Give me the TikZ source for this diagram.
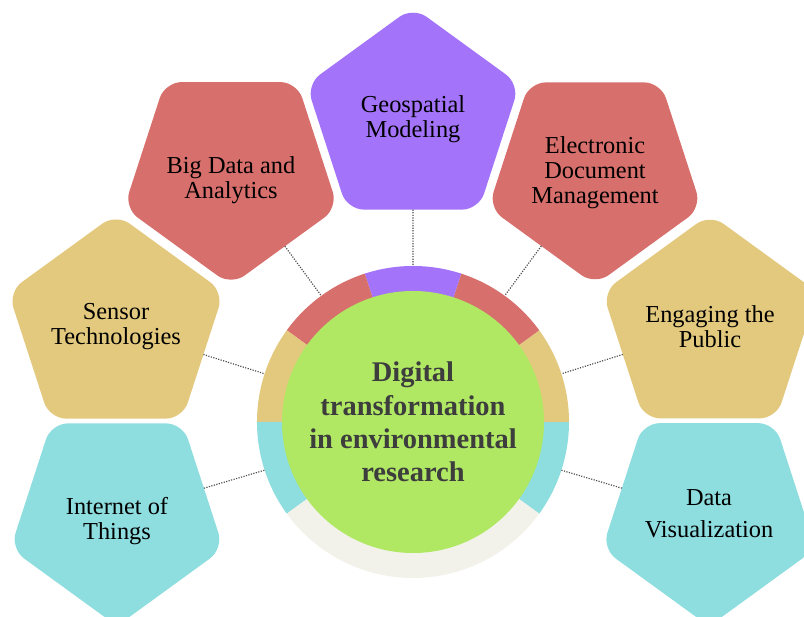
\documentclass[tikz,border=0pt]{standalone}
\usepackage{fontspec}
\setmainfont{Liberation Serif}
\usetikzlibrary{shapes.geometric}

\definecolor{topic purple}{RGB}{163,116,250}
\definecolor{topic red}{RGB}{215,111,108}
\definecolor{topic yellow}{RGB}{227,201,125}
\definecolor{topic cyan}{RGB}{142,221,223}
\definecolor{hub green}{RGB}{176,232,100}
\definecolor{ring grey}{RGB}{242,242,234}

\tikzstyle{topic}=[regular polygon, regular polygon sides=5, minimum size=6.72cm, inner sep=0pt, outer sep=0pt, rounded corners=0.5cm, align=center, text=black, font=\fontsize{20.8pt}{21.3pt}\selectfont]
\tikzstyle{tip down}=[shape border rotate=180]
\tikzstyle{lowered}=[text height=47.5pt, text depth=4.5pt]
\tikzstyle{hub}=[circle, fill=hub green, minimum size=7.86cm, inner sep=0pt, align=center, text=black!76, font=\fontsize{24.3pt}{28.4pt}\selectfont\bfseries]
\tikzstyle{link}=[draw=black!70, line width=1pt, dash pattern=on 1pt off 1.2pt]

\begin{document}
\begin{tikzpicture}[x=0.03cm, y=0.03cm]
	\useasboundingbox (0,0) rectangle (804,617);

	% Coloured ring round the hub
	\coordinate (c) at (413,195);
	\foreach \s/\e/\col in {-36/0/topic cyan, 0/36/topic yellow, 36/72/topic red, 72/108/topic purple,
		108/144/topic red, 144/180/topic yellow, 180/216/topic cyan, 216/324/ring grey}{
		\fill[\col] (c) -- ++(\s:156) arc[start angle=\s, end angle=\e, radius=156] -- cycle;
	}
	\node[circle, minimum size=9.36cm, inner sep=0pt, outer sep=0pt] (ring) at (c) {};
	\node[hub] (hub) at (c) {Digital\\transformation\\in environmental\\research};

	% Topics
	\node[topic, fill=topic purple] (geo) at (413,498) {Geospatial\\Modeling};
	\node[topic, tip down, lowered, fill=topic red] (bigdata) at (231,444) {Big Data and\\Analytics};
	\node[topic, tip down, fill=topic red] (edm) at (595,444) {Electronic\\Document\\Management};
	\node[topic, fill=topic yellow] (sensor) at (116,290) {Sensor\\Technologies};
	\node[topic, fill=topic yellow] (public) at (710,290) {Engaging the\\Public};
	\node[topic, tip down, lowered, fill=topic cyan] (iot) at (117,103) {Internet of\\Things};
	\node[topic, tip down, fill=topic cyan] (dataviz) at (709,103) {Data\\[0.2cm]Visualization};

	% Dotted links to the ring
	\foreach \n/\a in {geo/90, bigdata/126, edm/54, sensor/162, public/18, iot/198, dataviz/-18}{
		\draw[link] (\n) -- (ring.\a);
	}
\end{tikzpicture}
\end{document}
